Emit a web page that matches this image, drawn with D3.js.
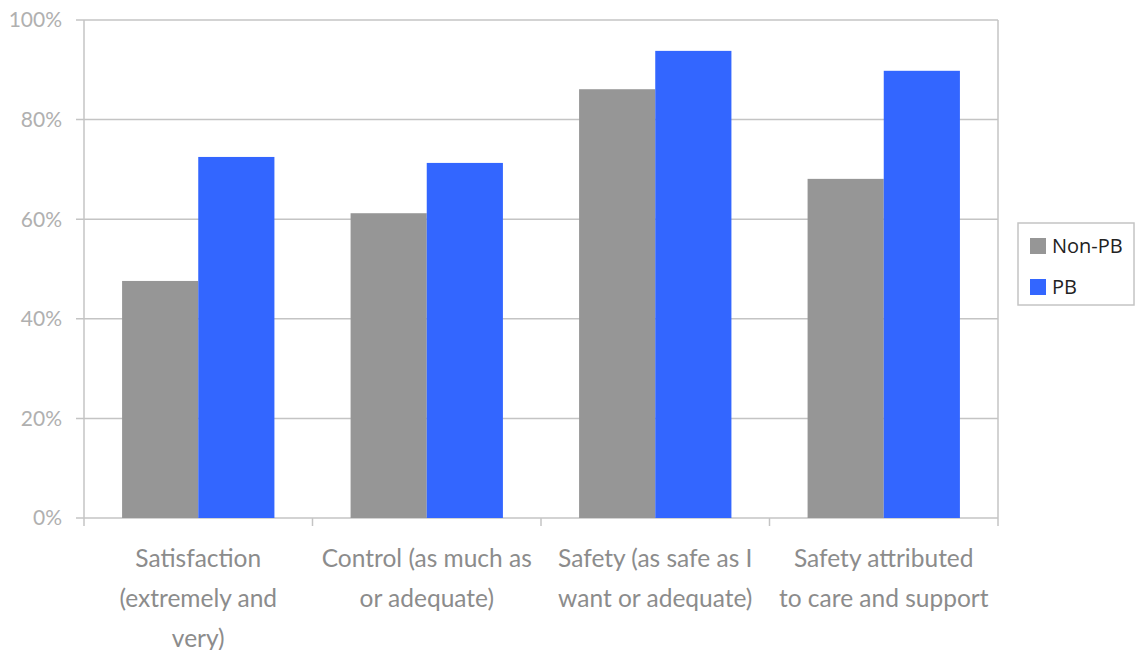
<!DOCTYPE html>
<html>
<head>
<meta charset="utf-8">
<script src="https://cdn.jsdelivr.net/npm/d3@7"></script>
<style>
  body { margin: 0; background: #fff; }
</style>
</head>
<body>
<div id="chart"></div>
<script>
// Data
const categories = [
  ["Satisfaction", "(extremely and", "very)"],
  ["Control (as much as", "or adequate)"],
  ["Safety (as safe as I", "want or adequate)"],
  ["Safety attributed", "to care and support"]
];
const seriesNames = ["Non-PB", "PB"];
const nonPB = [47.6, 61.2, 86.1, 68.1];
const pb = [72.5, 71.3, 93.8, 89.8];
const yTicks = [0, 20, 40, 60, 80, 100];
const colors = ["#969696", "#3366ff"];

const width = 1135, height = 650;
const plot = { left: 84, right: 998, top: 20, bottom: 518 };

const svg = d3.select("#chart").append("svg")
  .attr("width", width).attr("height", height);

const x0 = d3.scaleBand()
  .domain(d3.range(categories.length))
  .range([plot.left, plot.right])
  .paddingInner(0).paddingOuter(0);

const x1 = d3.scaleBand()
  .domain(seriesNames)
  .range([0, x0.bandwidth()])
  .paddingInner(0).paddingOuter(0.5);

const y = d3.scaleLinear().domain([0, 100]).range([plot.bottom, plot.top]);

// Gridlines
svg.append("g")
  .selectAll("line")
  .data(yTicks)
  .join("line")
  .attr("x1", plot.left - 8).attr("x2", plot.right)
  .attr("y1", d => y(d)).attr("y2", d => y(d))
  .attr("stroke", "#c4c4c4").attr("stroke-width", 1.5);

// Right border
svg.append("line")
  .attr("x1", plot.right).attr("x2", plot.right)
  .attr("y1", plot.top).attr("y2", plot.bottom)
  .attr("stroke", "#c4c4c4").attr("stroke-width", 1.5);

// Bars
const rows = categories.map((c, i) => ({ i, values: [nonPB[i], pb[i]] }));
const groups = svg.append("g").selectAll("g")
  .data(rows).join("g")
  .attr("transform", d => `translate(${x0(d.i)},0)`);

groups.selectAll("rect")
  .data(d => d.values.map((v, k) => ({ k, v })))
  .join("rect")
  .attr("x", d => x1(seriesNames[d.k]))
  .attr("width", x1.bandwidth())
  .attr("y", d => y(d.v))
  .attr("height", d => y(0) - y(d.v))
  .attr("fill", d => colors[d.k]);

// Axes lines
svg.append("line")
  .attr("x1", plot.left).attr("x2", plot.left)
  .attr("y1", plot.top).attr("y2", plot.bottom + 8)
  .attr("stroke", "#c4c4c4").attr("stroke-width", 1.5);

svg.append("g").selectAll("line")
  .data(d3.range(1, categories.length + 1))
  .join("line")
  .attr("x1", d => plot.left + d * x0.bandwidth())
  .attr("x2", d => plot.left + d * x0.bandwidth())
  .attr("y1", plot.bottom).attr("y2", plot.bottom + 8)
  .attr("stroke", "#c4c4c4").attr("stroke-width", 1.5);

// Y tick labels
svg.append("g").selectAll("text")
  .data(yTicks)
  .join("text")
  .attr("x", plot.left - 22)
  .attr("y", d => y(d))
  .attr("dy", "0.35em")
  .attr("text-anchor", "end")
  .attr("font-family", "Lato, 'Open Sans', sans-serif")
  .attr("font-size", 21)
  .attr("fill", "#b0b0b0")
  .text(d => d + "%");

// Category labels
const labels = svg.append("g").selectAll("text")
  .data(categories)
  .join("text")
  .attr("x", (d, i) => x0(i) + x0.bandwidth() / 2)
  .attr("y", 567)
  .attr("text-anchor", "middle")
  .attr("font-family", "Lato, 'Open Sans', sans-serif")
  .attr("font-size", 24.5)
  .attr("fill", "#8c8c8c");

labels.selectAll("tspan")
  .data(d => d)
  .join("tspan")
  .attr("x", function () { return d3.select(this.parentNode).attr("x"); })
  .attr("dy", (d, i) => i === 0 ? 0 : 40)
  .text(d => d);

// Legend
const legend = svg.append("g").attr("transform", "translate(1018,223)");
legend.append("rect")
  .attr("width", 116).attr("height", 82)
  .attr("fill", "#fff").attr("stroke", "#c4c4c4").attr("stroke-width", 1.5);

const items = legend.selectAll("g.item")
  .data(seriesNames)
  .join("g")
  .attr("class", "item")
  .attr("transform", (d, i) => `translate(12,${15 + i * 41})`);

items.append("rect")
  .attr("width", 16).attr("height", 16)
  .attr("fill", (d, i) => colors[i]);

items.append("text")
  .attr("x", 22).attr("y", 8)
  .attr("dy", "0.35em")
  .attr("font-family", "'Open Sans', sans-serif")
  .attr("font-size", 20)
  .attr("fill", "#222")
  .text(d => d);
</script>
</body>
</html>
